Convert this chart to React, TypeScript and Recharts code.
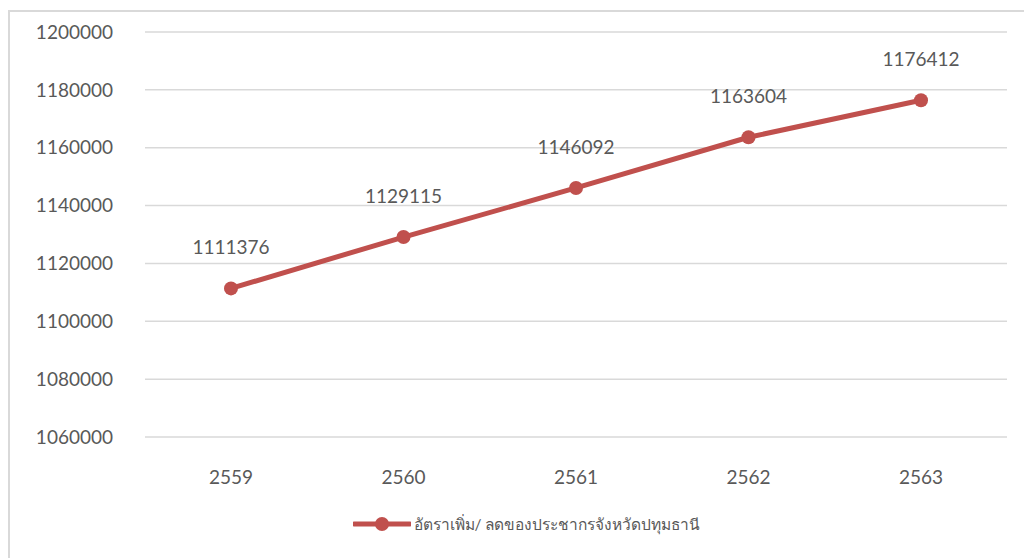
import React from "react";
import {
	CartesianGrid,
	LabelList,
	Legend,
	Line,
	LineChart,
	XAxis,
	YAxis,
} from "recharts";

// Population of Pathum Thani province by Buddhist-era year
const years = ["2559", "2560", "2561", "2562", "2563"];
const population = [1111376, 1129115, 1146092, 1163604, 1176412];
const yTicks = [1060000, 1080000, 1100000, 1120000, 1140000, 1160000, 1180000, 1200000];
const seriesName = "อัตราเพิ่ม/ ลดของประชากรจังหวัดปทุมธานี";

const data = years.map((year, i) => ({ year, value: population[i] }));

const LINE_COLOR = "#c0504d";
const TEXT_COLOR = "#595959";
const FONT = "Lato, 'Noto Sans', 'DejaVu Sans', sans-serif";

const LegendContent = () => (
	<div
		style={{
			display: "flex",
			justifyContent: "center",
			alignItems: "center",
			height: 30,
			paddingLeft: 36,
			fontFamily: FONT,
			fontSize: 15.5,
			color: TEXT_COLOR,
		}}
	>
		<svg width={58} height={20} style={{ marginRight: 3 }}>
			<line x1={1} y1={10} x2={57} y2={10} stroke={LINE_COLOR} strokeWidth={5} strokeLinecap="round" />
			<circle cx={29} cy={10} r={7} fill={LINE_COLOR} />
		</svg>
		<span>{seriesName}</span>
	</div>
);

export default function App() {
	return (
		<div
			style={{
				position: "absolute",
				left: 8,
				top: 10,
				width: 1014,
				height: 546,
				border: "2px solid #d9d9d9",
				borderRight: "none",
				borderBottom: "none",
				background: "#fff",
			}}
		>
			<LineChart
				width={1014}
				height={546}
				data={data}
				margin={{ top: 20, right: 17, left: 0, bottom: 19 }}
			>
				<CartesianGrid vertical={false} stroke="#d9d9d9" strokeWidth={1.5} />
				<XAxis
					dataKey="year"
					axisLine={false}
					tickLine={false}
					tickSize={0}
					tickMargin={34}
					height={72}
					padding={{ left: 86, right: 86 }}
					tick={{ fill: TEXT_COLOR, fontSize: 19, fontFamily: FONT }}
				/>
				<YAxis
					domain={[1060000, 1200000]}
					ticks={yTicks}
					axisLine={false}
					tickLine={false}
					tickSize={0}
					tickMargin={32}
					width={135}
					interval={0}
					tick={{ fill: TEXT_COLOR, fontSize: 19, fontFamily: FONT }}
				/>
				<Legend verticalAlign="bottom" content={<LegendContent />} />
				<Line
					type="linear"
					dataKey="value"
					name={seriesName}
					stroke={LINE_COLOR}
					strokeWidth={5}
					dot={{ r: 7, fill: LINE_COLOR, stroke: LINE_COLOR, strokeWidth: 0 }}
					activeDot={false}
					isAnimationActive={false}
				>
					<LabelList
						dataKey="value"
						position="top"
						offset={34}
						fill={TEXT_COLOR}
						fontSize={19}
						fontFamily={FONT}
					/>
				</Line>
			</LineChart>
		</div>
	);
}
